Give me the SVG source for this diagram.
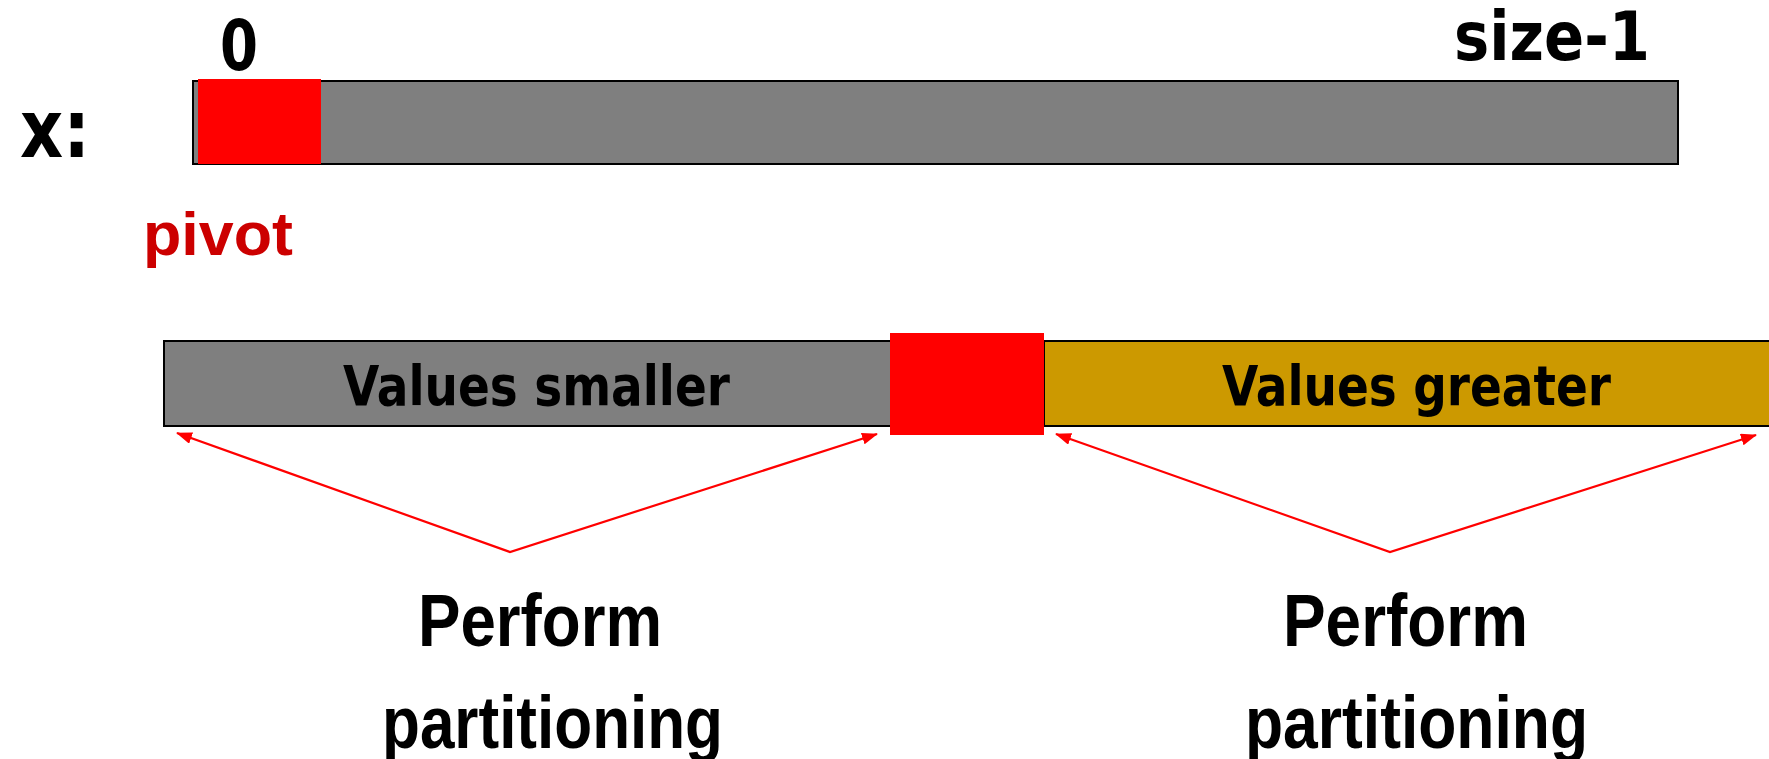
<svg xmlns="http://www.w3.org/2000/svg" width="1769" height="759" viewBox="0 0 1769 759">
<style>
.lbl{font-family:"DejaVu Sans","Verdana",sans-serif;font-weight:bold;fill:#000}
.big{font-family:"Liberation Sans",Arial,sans-serif;font-weight:bold;fill:#000;font-size:75px}
.bar{stroke:#000;stroke-width:2}
.conn{fill:none;stroke:#FF0000;stroke-width:2.2}
</style>
<defs>
<marker id="ah" viewBox="0 0 16 12" refX="15" refY="6" markerWidth="16" markerHeight="12" markerUnits="userSpaceOnUse" orient="auto-start-reverse">
<path d="M0,0 L16,6 L0,12 Z" fill="#FF0000"/>
</marker>
</defs>
<rect width="1769" height="759" fill="#fff"/>

<g id="array-top">
<text class="lbl" x="20" y="157" font-size="80" textLength="70" lengthAdjust="spacingAndGlyphs">x:</text>
<text class="lbl" x="220" y="70" font-size="70" textLength="38" lengthAdjust="spacingAndGlyphs">0</text>
<text class="lbl" x="1454" y="60" font-size="68" textLength="196" lengthAdjust="spacingAndGlyphs">size-1</text>
<rect class="bar" x="193" y="81" width="1485" height="83" fill="#7F7F7F"/>
<rect x="198" y="79" width="123" height="85" fill="#FF0000"/>
<text x="143" y="255" font-family="'Liberation Sans',Arial,sans-serif" font-weight="bold" font-size="62" fill="#CC0000" textLength="150" lengthAdjust="spacingAndGlyphs">pivot</text>
</g>

<g id="smaller">
<rect class="bar" x="164" y="341" width="730" height="85" fill="#7F7F7F"/>
<text class="lbl" x="343" y="405" font-size="55" textLength="387" lengthAdjust="spacingAndGlyphs">Values smaller</text>
</g>

<g id="greater">
<rect class="bar" x="1044" y="341" width="740" height="85" fill="#CC9900"/>
<text class="lbl" x="1222" y="405" font-size="55" textLength="389" lengthAdjust="spacingAndGlyphs">Values greater</text>
</g>

<g id="pivot-mid">
<rect x="890" y="333" width="154" height="102" fill="#FF0000"/>
</g>

<g id="connectors">
<polyline class="conn" points="177,433 510,552 877,434" marker-start="url(#ah)" marker-end="url(#ah)"/>
<polyline class="conn" points="1056,434 1390,552 1756,435" marker-start="url(#ah)" marker-end="url(#ah)"/>
</g>

<g id="label-left">
<text class="big" x="418" y="646" textLength="244" lengthAdjust="spacingAndGlyphs">Perform</text>
<text class="big" x="382" y="748" textLength="341" lengthAdjust="spacingAndGlyphs">partitioning</text>
</g>
<g id="label-right">
<text class="big" x="1283" y="646" textLength="245" lengthAdjust="spacingAndGlyphs">Perform</text>
<text class="big" x="1245" y="748" textLength="343" lengthAdjust="spacingAndGlyphs">partitioning</text>
</g>
</svg>
